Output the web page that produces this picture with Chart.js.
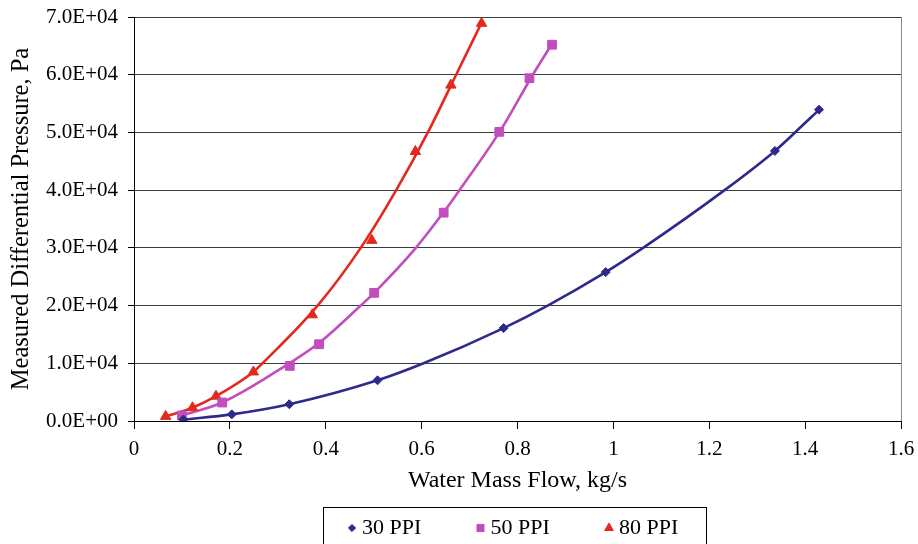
<!DOCTYPE html>
<html>
<head>
<meta charset="utf-8">
<script src="https://cdn.jsdelivr.net/npm/chart.js@4.4.1/dist/chart.umd.min.js"></script>
<style>
html,body{margin:0;padding:0;background:#fff;overflow:hidden}
#wrap{width:918px;height:544px;position:relative}
</style>
</head>
<body>
<div id="wrap"><canvas id="c" width="918" height="544"></canvas></div>
<script>
// ---- data ----
const seriesNames = ['30 PPI', '50 PPI', '80 PPI'];

const flow30 = [0.103, 0.204, 0.324, 0.508, 0.771, 0.984, 1.337, 1.429];
const dp30   = [250, 1150, 2900, 7050, 16100, 25800, 46800, 53950];

const flow50 = [0.100, 0.184, 0.325, 0.386, 0.501, 0.646, 0.762, 0.825, 0.872];
const dp50   = [950, 3200, 9550, 13300, 22200, 36100, 50100, 59400, 65200];

const flow80 = [0.066, 0.122, 0.171, 0.249, 0.372, 0.496, 0.587, 0.661, 0.725];
const dp80   = [800, 2300, 4300, 8500, 18400, 31300, 46700, 58200, 68900];

// trend curves as traced on the picture
const curve30x = [0.103, 0.204, 0.324, 0.508, 0.604, 0.771, 0.863, 0.984, 1.062, 1.232, 1.337, 1.379, 1.430];
const curve30y = [250, 1150, 2900, 7050, 10000, 16100, 20000, 25800, 30000, 40000, 46800, 50000, 54000];

const curve50x = [0.100, 0.184, 0.324, 0.386, 0.473, 0.501, 0.588, 0.646, 0.679, 0.762, 0.832, 0.873];
const curve50y = [950, 3200, 10000, 13500, 20000, 22200, 30000, 36200, 40000, 50000, 60000, 65500];

const curve80x = [0.066, 0.122, 0.171, 0.249, 0.268, 0.383, 0.473, 0.547, 0.613, 0.672, 0.725];
const curve80y = [800, 2300, 4300, 8500, 10000, 20000, 30000, 40000, 50000, 60000, 69000];

const xTickLabels = ['0', '0.2', '0.4', '0.6', '0.8', '1', '1.2', '1.4', '1.6'];
const yTickLabels = ['0.0E+00', '1.0E+04', '2.0E+04', '3.0E+04', '4.0E+04', '5.0E+04', '6.0E+04', '7.0E+04'];

const xTitle = 'Water Mass Flow, kg/s';
const yTitle = 'Measured Differential Pressure, Pa';

// ---- styling ----
const colors = ['#2E2A8C', '#C24DBC', '#E3291D'];
const markerStyles = ['rectRot', 'rect', 'triangle'];
const markerRadius = [4.5, 6.2, 6];
const FONT = "'Liberation Serif', 'Times New Roman', serif";

function pts(xs, ys) { return xs.map((x, i) => ({ x: x, y: ys[i] })); }

const pointSets = [pts(flow30, dp30), pts(flow50, dp50), pts(flow80, dp80)];
const curveSets = [pts(curve30x, curve30y), pts(curve50x, curve50y), pts(curve80x, curve80y)];

const datasets = [];
for (let i = 0; i < 3; i++) {
  datasets.push({
    label: seriesNames[i],
    data: pointSets[i],
    showLine: false,
    pointStyle: markerStyles[i],
    pointRadius: markerRadius[i],
    pointBackgroundColor: colors[i],
    pointBorderColor: colors[i],
    pointBorderWidth: 1,
    backgroundColor: colors[i],
    borderColor: colors[i],
    order: 0,
    inLegend: true
  });
}
for (let i = 0; i < 3; i++) {
  datasets.push({
    label: seriesNames[i] + ' trend',
    data: curveSets[i],
    showLine: true,
    borderColor: colors[i],
    borderWidth: 2.6,
    pointRadius: 0,
    cubicInterpolationMode: 'monotone',
    fill: false,
    order: 1,
    inLegend: false
  });
}

// legend drawn as framed box like the reference
const boxLegend = {
  id: 'boxLegend',
  afterDraw(chart) {
    const ctx = chart.ctx;
    ctx.save();
    ctx.strokeStyle = '#000';
    ctx.lineWidth = 1;
    ctx.strokeRect(323.5, 507.5, 383, 60);
    const items = chart.data.datasets.filter(d => d.inLegend);
    const firstX = 352, step = 128.5, cy = 528;
    ctx.font = '22px ' + FONT;
    ctx.textBaseline = 'middle';
    ctx.textAlign = 'left';
    items.forEach((d, i) => {
      const mx = firstX + i * step;
      ctx.fillStyle = d.pointBackgroundColor;
      ctx.strokeStyle = d.pointBorderColor;
      const r = [3.6, 5, 5][i];
      if (Chart.helpers && Chart.helpers.drawPoint) {
        Chart.helpers.drawPoint(ctx, { pointStyle: d.pointStyle, radius: r, rotation: 0, borderWidth: 1 }, mx, cy);
      }
      ctx.fillStyle = '#000';
      ctx.fillText(d.label, mx + 10, cy);
    });
    ctx.restore();
  }
};

function noOverflow(scale) {
  scale.paddingTop = 0;
  scale.paddingBottom = 0;
  scale.paddingLeft = 0;
  scale.paddingRight = 0;
}

new Chart(document.getElementById('c'), {
  type: 'scatter',
  data: { datasets: datasets },
  options: {
    responsive: false,
    animation: false,
    devicePixelRatio: 1,
    layout: { padding: { left: 0, right: 17, top: 17, bottom: 44 } },
    plugins: {
      legend: { display: false },
      tooltip: { enabled: false }
    },
    scales: {
      x: {
        type: 'linear',
        min: 0, max: 1.6,
        afterFit(scale) { scale.height = 79; noOverflow(scale); },
        ticks: {
          stepSize: 0.2,
          color: '#000',
          font: { family: FONT, size: 21 },
          padding: 8,
          maxRotation: 0,
          callback: (v, i) => xTickLabels[i]
        },
        grid: {
          color: (c) => (c.index === xTickLabels.length - 1 ? '#8a8a8a' : 'rgba(0,0,0,0)'),
          tickColor: '#000',
          tickLength: 8,
          lineWidth: 1
        },
        border: { color: '#000', width: 1 },
        title: {
          display: true,
          text: xTitle,
          color: '#000',
          font: { family: FONT, size: 24 },
          padding: { top: 0, bottom: 5 }
        }
      },
      y: {
        type: 'linear',
        min: 0, max: 70000,
        afterFit(scale) { scale.width = 134; noOverflow(scale); },
        ticks: {
          stepSize: 10000,
          color: '#000',
          font: { family: FONT, size: 21 },
          padding: 10,
          callback: (v, i) => yTickLabels[i]
        },
        grid: {
          color: '#3c3c3c',
          tickColor: '#000',
          tickLength: 6,
          lineWidth: 1
        },
        border: { color: '#000', width: 1 },
        title: {
          display: true,
          text: yTitle,
          color: '#000',
          font: { family: FONT, size: 24.5 },
          padding: { top: 7, bottom: 0 }
        }
      }
    }
  },
  plugins: [boxLegend]
});
</script>
</body>
</html>
